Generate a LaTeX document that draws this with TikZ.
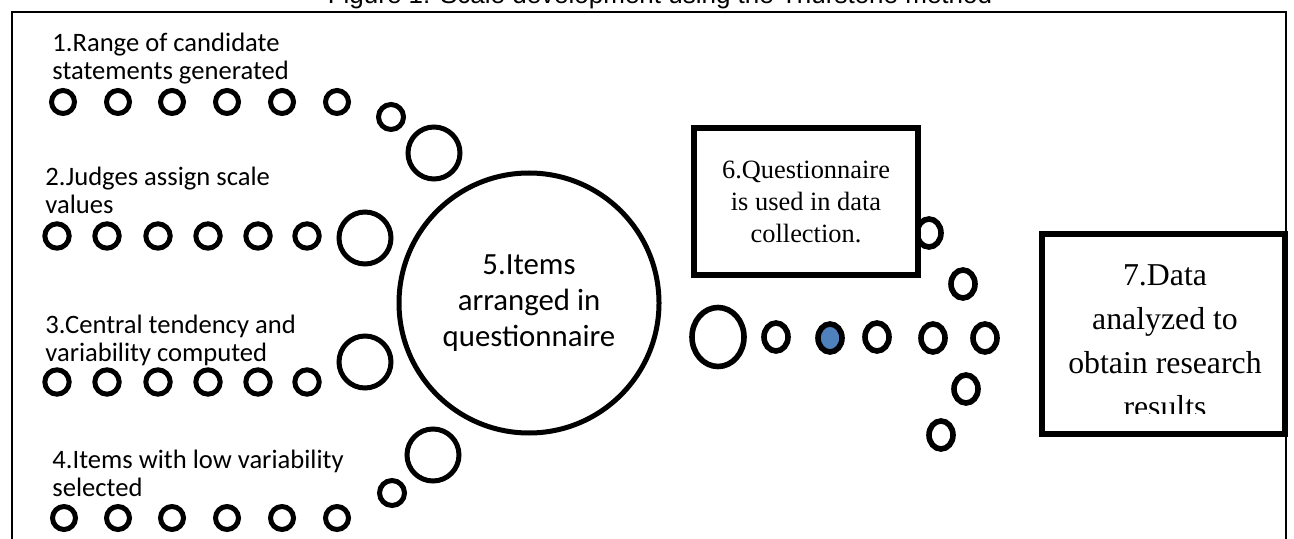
\documentclass[tikz,border=0pt]{standalone}
\usepackage{fontspec}
\setmainfont{Liberation Serif}
\newfontfamily\cbfont{Carlito}
\newfontfamily\arfont{Liberation Sans}
\usepackage{tikz}
\usetikzlibrary{shapes.geometric}
\definecolor{cdot}{HTML}{4F81BD}
\tikzset{
  ring/.style={circle, draw, line width=2.5pt, inner sep=0pt, minimum size=11.5pt},
  wring/.style={ring, minimum size=12.2pt},
  bigring/.style={ring, minimum size=26pt},
  oval/.style={ellipse, draw, line width=2.8pt, inner sep=0pt, minimum width=12pt, minimum height=14pt},
  bigoval/.style={oval, minimum width=26pt, minimum height=29.5pt},
  blueoval/.style={oval, fill=cdot},
  stepnote/.style={anchor=north west, inner sep=0pt, align=left, font=\cbfont\fontsize{13.3pt}{14pt}\selectfont},
  hub/.style={circle, draw, line width=2.5pt, inner sep=0pt, minimum size=130pt, align=center, font=\cbfont\fontsize{15.4pt}{18pt}\selectfont},
  card/.style={draw, line width=3.2pt, fill=white, inner sep=0pt, align=center},
  frame/.style={line width=1.2pt},
}

\begin{document}
\begin{tikzpicture}[x=0.5pt, y=-0.5pt]
\useasboundingbox (0,0) rectangle (1294,539);
% title, cut off by the page edge
\node[anchor=base, inner sep=0pt, font=\arfont\fontsize{13pt}{15pt}\selectfont] (title) at (660,4) {Figure 1: Scale development using the Thurstone method};
\draw[frame] (12,580) -- (12,12) -- (1286,12) -- (1286,580);

% step 1
\node[stepnote] (s1) at (52,33) {1.Range of candidate\\statements generated};
\node[ring] (a1) at (63,102) {};  \node[ring] (a2) at (118,102) {}; \node[ring] (a3) at (172,102) {};
\node[ring] (a4) at (227,102) {}; \node[ring] (a5) at (282,102) {}; \node[ring] (a6) at (337,102) {};
\node[ring, minimum size=12.5pt] (a7) at (391,117) {};
\node[bigring] (a8) at (434,153) {};

% step 2
\node[stepnote] (s2) at (45,167) {2.Judges assign scale\\values};
\node[wring] (b1) at (57,236) {};  \node[wring] (b2) at (107,236) {}; \node[wring] (b3) at (158,236) {};
\node[wring] (b4) at (208,236) {}; \node[wring] (b5) at (258,236) {}; \node[wring] (b6) at (307,236) {};
\node[bigring] (b7) at (365,238) {};

% step 3
\node[stepnote] (s3) at (45,315) {3.Central tendency and\\variability computed};
\node[wring] (c1) at (57,382) {};  \node[wring] (c2) at (107,382) {}; \node[wring] (c3) at (158,382) {};
\node[wring] (c4) at (208,382) {}; \node[wring] (c5) at (258,382) {}; \node[wring] (c6) at (307,382) {};
\node[bigring] (c7) at (365,362) {};

% step 4
\node[stepnote] (s4) at (52,450) {4.Items with low variability\\selected};
\node[ring] (d1) at (64,518) {};  \node[ring] (d2) at (118,518) {}; \node[ring] (d3) at (172,518) {};
\node[ring] (d4) at (227,518) {}; \node[ring] (d5) at (282,518) {}; \node[ring] (d6) at (337,518) {};
\node[ring, minimum size=12.5pt] (d7) at (392,493) {};
\node[bigring] (d8) at (433,455) {};

% step 5
\node[hub] (items) at (529,303) {5.Items\\arranged in\\questionnaire};

% trail towards step 7
\node[bigoval] (e1) at (718,337) {};
\node[oval] (e2) at (776,337) {};
\node[blueoval] (e3) at (830,338) {};
\node[oval] (e4) at (877,337) {};
\node[oval] (e5) at (933,338) {};
\node[oval] (e6) at (985,338) {};
\node[oval] (u1) at (929,233) {};
\node[oval] (u2) at (963,284) {};
\node[oval] (l1) at (966,389) {};
\node[oval] (l2) at (941,435) {};

% step 6
\node[card, minimum width=112pt, minimum height=73.5pt, font=\fontsize{13.2pt}{16pt}\selectfont] (quest) at (806,201.5) {6.Questionnaire\\is used in data\\collection.};

% step 7, last line cut by the box
\node[card, minimum width=121.5pt, minimum height=100pt] (data) at (1163.5,334) {};
\begin{scope}
\clip (1047,239) rectangle (1280,413);
\node[anchor=north, align=center, inner sep=0pt, font=\fontsize{15.9pt}{22pt}\selectfont] (datatext) at (1165,264) {7.Data\\analyzed to\\obtain research\\results};
\end{scope}
\end{tikzpicture}
\end{document}
